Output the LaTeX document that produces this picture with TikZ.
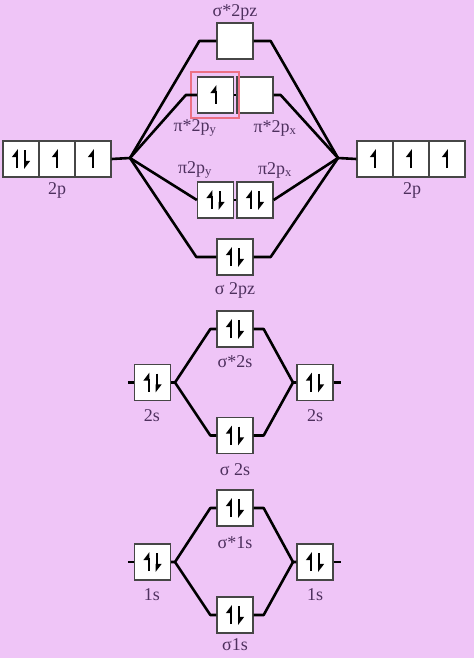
\documentclass[tikz,border=0pt]{standalone}
\usepackage{fontspec}
\setmainfont{Liberation Serif}
\usetikzlibrary{arrows.meta}

\definecolor{bgpink}{RGB}{239,197,247}
\definecolor{labelpurple}{RGB}{78,48,94}
\definecolor{boxgrey}{RGB}{70,70,70}
\definecolor{markred}{RGB}{236,112,132}

\tikzset{
  orb/.style={draw=boxgrey, fill=white, line width=1.3pt, minimum size=36pt, inner sep=0pt},
  bond/.style={line width=2.6pt, line join=round},
  spin/.style={line width=2pt, -{Triangle[left, length=7pt, width=10pt]}},
  lbl/.style={text=labelpurple, font=\fontsize{18}{20}\selectfont}
}

% one electron, or a pair, in a box
\newcommand{\upspin}[1]{\draw[spin] ([yshift=-9pt]#1.center) -- ([yshift=10pt]#1.center);}
\newcommand{\pairspin}[1]{%
  \draw[spin] ([shift={(-4pt,-9pt)}]#1.center) -- ([shift={(-4pt,10pt)}]#1.center);
  \draw[spin] ([shift={(4pt,9pt)}]#1.center) -- ([shift={(4pt,-10pt)}]#1.center);}

\begin{document}
\begin{tikzpicture}[x=1pt, y=-1pt]
\fill[bgpink] (0,0) rectangle (474,658);

% 2p level
\node[orb] (pL1) at (21,159) {};
\node[orb] (pL2) at (57,159) {};
\node[orb] (pL3) at (93,159) {};
\node[orb] (pR1) at (375,159) {};
\node[orb] (pR2) at (411,159) {};
\node[orb] (pR3) at (447,159) {};
\node[lbl] (pLlbl) at (57,190) {2p};
\node[lbl] (pRlbl) at (412,190) {2p};
\coordinate (jL) at (130,158);
\coordinate (jR) at (338,158);

\node[orb] (sgs2p) at (235,41) {};
\node[orb] (pisy) at (215.5,95) {};
\node[orb] (pisx) at (255,95) {};
\node[orb] (piy) at (215.5,200) {};
\node[orb] (pix) at (255,200) {};
\node[orb] (sg2p) at (235,257) {};
\draw[markred, line width=1.4pt] (191,72) rectangle (239,118);

\node[lbl] (sgs2plbl) at (235,12) {σ*2pz};
\node[lbl] (pisylbl) at (195,128) {π*2p\textsubscript{y}};
\node[lbl] (pisxlbl) at (275,128) {π*2p\textsubscript{x}};
\node[lbl] (piylbl) at (195,170) {π2p\textsubscript{y}};
\node[lbl] (pixlbl) at (275,170) {π2p\textsubscript{x}};
\node[lbl] (sg2plbl) at (235,290) {σ 2pz};

\draw[bond] (pL3.east) -- (jL);
\draw[bond] (pR1.west) -- (jR);
\draw[bond] (jL) -- ([xshift=-17pt]sgs2p.west) -- (sgs2p.west);
\draw[bond] (jR) -- ([xshift=17pt]sgs2p.east) -- (sgs2p.east);
\draw[bond] (jL) -- ([xshift=-11pt]pisy.west) -- (pisy.west);
\draw[bond] (jR) -- ([xshift=7pt]pisx.east) -- (pisx.east);
\draw[bond] (jL) -- (piy.west);
\draw[bond] (jR) -- (pix.east);
\draw[bond] (jL) -- ([xshift=-20pt]sg2p.west) -- (sg2p.west);
\draw[bond] (jR) -- ([xshift=17pt]sg2p.east) -- (sg2p.east);
\draw[line width=1.3pt] (pisy.east) -- (pisx.west);
\draw[line width=1.3pt] (piy.east) -- (pix.west);

\pairspin{pL1}
\upspin{pL2}
\upspin{pL3}
\upspin{pR1}
\upspin{pR2}
\upspin{pR3}
\upspin{pisy}
\pairspin{piy}
\pairspin{pix}
\pairspin{sg2p}

% 2s level
\node[orb] (sgs2s) at (235,329) {};
\node[orb] (sL) at (152.5,382.5) {};
\node[orb] (sR) at (315,382.5) {};
\node[orb] (sg2s) at (235,435.5) {};
\node[lbl] (sgs2slbl) at (235,362) {σ*2s};
\node[lbl] (sLlbl) at (152,416) {2s};
\node[lbl] (sRlbl) at (315,416) {2s};
\node[lbl] (sg2slbl) at (235,470) {σ 2s};
\coordinate (kL) at (175,382.5);
\coordinate (kR) at (293,382.5);

\draw[bond] ([xshift=-6pt]sL.west) -- (sL.west);
\draw[bond] (sR.east) -- ([xshift=7pt]sR.east);
\draw[bond] (sL.east) -- (kL) -- ([xshift=-6pt]sgs2s.west) -- (sgs2s.west);
\draw[bond] (kL) -- ([xshift=-6pt]sg2s.west) -- (sg2s.west);
\draw[bond] (sR.west) -- (kR) -- ([xshift=10pt]sgs2s.east) -- (sgs2s.east);
\draw[bond] (kR) -- ([xshift=10pt]sg2s.east) -- (sg2s.east);

\pairspin{sgs2s}
\pairspin{sL}
\pairspin{sR}
\pairspin{sg2s}

% 1s level
\node[orb] (sgs1s) at (235,508) {};
\node[orb] (oL) at (152.5,562) {};
\node[orb] (oR) at (315,562) {};
\node[orb] (sg1s) at (235,615) {};
\node[lbl] (sgs1slbl) at (235,543) {σ*1s};
\node[lbl] (oLlbl) at (152,595) {1s};
\node[lbl] (oRlbl) at (315,595) {1s};
\node[lbl] (sg1slbl) at (235,645) {σ1s};
\coordinate (mL) at (175,562);
\coordinate (mR) at (293,562);

\draw[bond] ([xshift=-6pt]oL.west) -- (oL.west);
\draw[bond] (oR.east) -- ([xshift=7pt]oR.east);
\draw[bond] (oL.east) -- (mL) -- ([xshift=-6pt]sgs1s.west) -- (sgs1s.west);
\draw[bond] (mL) -- ([xshift=-6pt]sg1s.west) -- (sg1s.west);
\draw[bond] (oR.west) -- (mR) -- ([xshift=10pt]sgs1s.east) -- (sgs1s.east);
\draw[bond] (mR) -- ([xshift=10pt]sg1s.east) -- (sg1s.east);

\pairspin{sgs1s}
\pairspin{oL}
\pairspin{oR}
\pairspin{sg1s}
\end{tikzpicture}
\end{document}
